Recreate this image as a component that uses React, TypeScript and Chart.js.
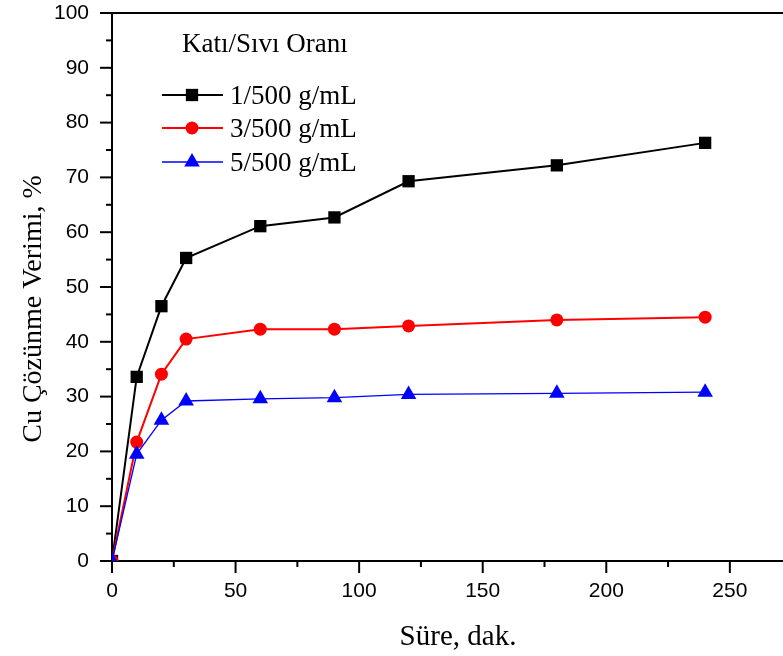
import React, { useEffect, useRef } from 'react';
import { Chart, registerables } from 'chart.js';

Chart.register(...registerables);

// ---- data ----
const times = [0, 10, 20, 30, 60, 90, 120, 180, 240];
const ratio1 = [0, 33.6, 46.5, 55.3, 61.1, 62.7, 69.3, 72.2, 76.3];
const ratio3 = [0, 21.7, 34.1, 40.5, 42.3, 42.3, 42.9, 44.0, 44.5];
const ratio5 = [0, 19.5, 25.7, 29.2, 29.6, 29.8, 30.4, 30.6, 30.8];
const seriesLabels = ['1/500 g/mL', '3/500 g/mL', '5/500 g/mL'];
const seriesColors = ['#000000', '#ff0000', '#0000ff'];
const legendTitle = 'Katı/Sıvı Oranı';
const xTitle = 'Süre, dak.';
const yTitle = 'Cu Çözünme Verimi, %';
const xTickValues = [0, 50, 100, 150, 200, 250];
const yTickValues = [0, 10, 20, 30, 40, 50, 60, 70, 80, 90, 100];

const SERIF = '"Liberation Serif", "Times New Roman", serif';
const SANS = '"Liberation Sans", Arial, sans-serif';

function drawMarker(ctx: CanvasRenderingContext2D, style: string, x: number, y: number, r: number, color: string) {
  ctx.save();
  ctx.fillStyle = color;
  ctx.beginPath();
  if (style === 'rect') {
    const s = r * Math.SQRT1_2;
    ctx.rect(x - s, y - s, 2 * s, 2 * s);
  } else if (style === 'circle') {
    ctx.arc(x, y, r, 0, Math.PI * 2);
  } else {
    ctx.moveTo(x, y - r);
    ctx.lineTo(x + 0.866 * r, y + 0.5 * r);
    ctx.lineTo(x - 0.866 * r, y + 0.5 * r);
    ctx.closePath();
  }
  ctx.fill();
  ctx.restore();
}

const decorPlugin = {
  id: 'decor',
  afterDraw(chart: any) {
    const ctx: CanvasRenderingContext2D = chart.ctx;
    const ca = chart.chartArea;
    const xs = chart.scales.x;
    const ys = chart.scales.y;
    ctx.save();
    ctx.strokeStyle = '#000';
    ctx.lineWidth = 2;
    // top frame line
    ctx.beginPath();
    ctx.moveTo(ca.left - 1, ca.top);
    ctx.lineTo(ca.right, ca.top);
    ctx.stroke();
    // y ticks (major + minor)
    for (let i = 0; i < yTickValues.length; i++) {
      const v = yTickValues[i];
      const py = ys.getPixelForValue(v);
      ctx.beginPath();
      ctx.moveTo(ca.left - 12, py);
      ctx.lineTo(ca.left, py);
      ctx.stroke();
      if (i < yTickValues.length - 1) {
        const pm = ys.getPixelForValue((v + yTickValues[i + 1]) / 2);
        ctx.beginPath();
        ctx.moveTo(ca.left - 6, pm);
        ctx.lineTo(ca.left, pm);
        ctx.stroke();
      }
    }
    // x ticks (major + minor)
    for (let i = 0; i < xTickValues.length; i++) {
      const v = xTickValues[i];
      const px = xs.getPixelForValue(v);
      ctx.beginPath();
      ctx.moveTo(px, ca.bottom);
      ctx.lineTo(px, ca.bottom + 12);
      ctx.stroke();
      const pm = xs.getPixelForValue(v + 25);
      ctx.beginPath();
      ctx.moveTo(pm, ca.bottom);
      ctx.lineTo(pm, ca.bottom + 6);
      ctx.stroke();
    }
    // axis titles
    ctx.fillStyle = '#000';
    ctx.font = `29px ${SERIF}`;
    ctx.textAlign = 'center';
    ctx.textBaseline = 'alphabetic';
    ctx.fillText(xTitle, (ca.left + ca.right) / 2, ca.bottom + 84);
    ctx.save();
    ctx.font = `28px ${SERIF}`;
    ctx.translate(41, (ca.top + ca.bottom) / 2 + 22);
    ctx.rotate(-Math.PI / 2);
    ctx.fillText(yTitle, 0, 0);
    ctx.restore();
    // legend
    const lx = ca.left + 50;
    ctx.textAlign = 'left';
    ctx.font = `27px ${SERIF}`;
    ctx.fillText(legendTitle, ca.left + 70, ca.top + 39);
    const styles = ['rect', 'circle', 'triangle'];
    const radii = [8.7, 6.5, 9];
    const widths = [2, 2, 1.3];
    const rowY = [ca.top + 82, ca.top + 115, ca.top + 149];
    ctx.font = `27px ${SERIF}`;
    for (let i = 0; i < 3; i++) {
      ctx.strokeStyle = seriesColors[i];
      ctx.lineWidth = widths[i];
      ctx.beginPath();
      ctx.moveTo(lx, rowY[i]);
      ctx.lineTo(lx + 61, rowY[i]);
      ctx.stroke();
      drawMarker(ctx, styles[i], lx + 30, rowY[i], radii[i], seriesColors[i]);
      ctx.fillStyle = '#000';
      ctx.fillText(seriesLabels[i], lx + 68, rowY[i] + 9);
    }
    ctx.restore();
  },
};

export default function App() {
  const ref = useRef<HTMLCanvasElement>(null);
  useEffect(() => {
    if (!ref.current) return;
    const mk = (vals: number[]) => times.map((t, i) => ({ x: t, y: vals[i] }));
    const chart = new Chart(ref.current, {
      type: 'line',
      data: {
        datasets: [
          {
            label: seriesLabels[0], data: mk(ratio1), borderColor: seriesColors[0], backgroundColor: seriesColors[0],
            borderWidth: 2, pointStyle: 'rect', pointRadius: 8.7, pointBorderWidth: 0, order: 3, tension: 0,
          },
          {
            label: seriesLabels[1], data: mk(ratio3), borderColor: seriesColors[1], backgroundColor: seriesColors[1],
            borderWidth: 2, pointStyle: 'circle', pointRadius: 6.5, pointBorderWidth: 0, order: 2, tension: 0,
          },
          {
            label: seriesLabels[2], data: mk(ratio5), borderColor: seriesColors[2], backgroundColor: seriesColors[2],
            borderWidth: 1.3, pointStyle: 'triangle', pointRadius: 9, pointBorderWidth: 0, order: 1, tension: 0,
          },
        ],
      },
      options: {
        responsive: false,
        maintainAspectRatio: false,
        devicePixelRatio: 1,
        animation: false,
        layout: { padding: { top: 13, left: 0, right: 0, bottom: 0 } },
        plugins: { legend: { display: false }, tooltip: { enabled: false } },
        scales: {
          x: {
            type: 'linear', min: 0, max: 280,
            grid: { display: false, drawTicks: false },
            border: { display: true, color: '#000', width: 2 },
            ticks: { color: '#000', font: { family: SANS, size: 21 }, padding: 18, maxRotation: 0 },
            afterBuildTicks: (s: any) => { s.ticks = xTickValues.map((v) => ({ value: v })); },
            afterFit: (s: any) => {
              s.height = 95;
              s.paddingLeft = 0; s.paddingRight = 0; s.paddingTop = 0; s.paddingBottom = 0;
            },
          },
          y: {
            type: 'linear', min: 0, max: 100,
            grid: { display: false, drawTicks: false },
            border: { display: true, color: '#000', width: 2 },
            ticks: { color: '#000', font: { family: SANS, size: 21 }, padding: 23 },
            afterBuildTicks: (s: any) => { s.ticks = yTickValues.map((v) => ({ value: v })); },
            afterFit: (s: any) => {
              s.width = 112;
              s.paddingLeft = 0; s.paddingRight = 0; s.paddingTop = 0; s.paddingBottom = 0;
            },
          },
        },
      },
      plugins: [decorPlugin],
    });
    return () => chart.destroy();
  }, []);
  return (
    <div style={{ position: 'fixed', left: 0, top: 0, width: 783, height: 656, overflow: 'hidden', background: '#fff' }}>
      <canvas ref={ref} width={813} height={656} style={{ display: 'block' }} />
    </div>
  );
}
